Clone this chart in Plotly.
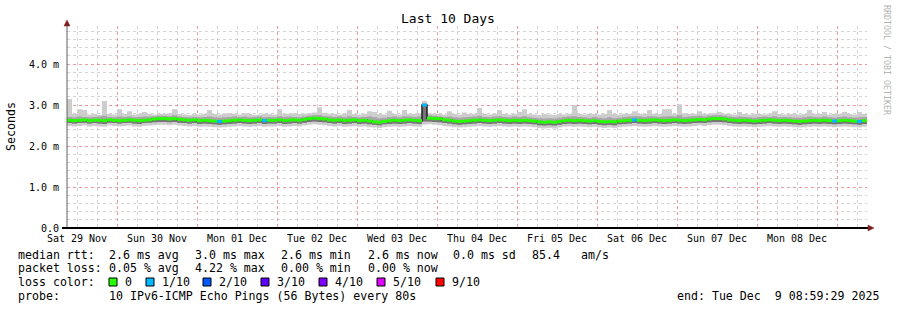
import plotly.graph_objects as go
import pandas as pd

# ---------------- data (ms) ----------------
start_time = "2025-11-29 08:59:29"
end_time = "2025-12-09 08:59:29"
step = "90min"

rtt_median = [
    2.63, 2.62, 2.63, 2.64, 2.62, 2.63, 2.63, 2.62, 2.64, 2.63, 2.62, 2.63, 2.64, 2.63, 2.62, 2.63,
    2.64, 2.66, 2.67, 2.67, 2.66, 2.67, 2.65, 2.64, 2.63, 2.64, 2.62, 2.63, 2.62, 2.61, 2.60, 2.61,
    2.62, 2.63, 2.64, 2.63, 2.62, 2.63, 2.64, 2.62, 2.63, 2.63, 2.64, 2.62, 2.63, 2.64, 2.63, 2.65,
    2.67, 2.68, 2.67, 2.66, 2.64, 2.63, 2.64, 2.62, 2.63, 2.64, 2.62, 2.63, 2.61, 2.59, 2.58, 2.60,
    2.62, 2.63, 2.62, 2.63, 2.64, 2.63, 2.62, 3.00, 2.68, 2.67, 2.67, 2.64, 2.63, 2.61, 2.60, 2.61,
    2.62, 2.63, 2.64, 2.63, 2.62, 2.63, 2.64, 2.63, 2.62, 2.63, 2.62, 2.63, 2.62, 2.61, 2.59, 2.58,
    2.59, 2.58, 2.60, 2.62, 2.63, 2.62, 2.63, 2.62, 2.61, 2.62, 2.60, 2.59, 2.60, 2.59, 2.61, 2.62,
    2.63, 2.64, 2.63, 2.62, 2.63, 2.64, 2.63, 2.62, 2.63, 2.64, 2.63, 2.62, 2.63, 2.64, 2.65, 2.64,
    2.66, 2.67, 2.67, 2.66, 2.64, 2.63, 2.62, 2.63, 2.62, 2.61, 2.62, 2.63, 2.64, 2.63, 2.62, 2.63,
    2.62, 2.61, 2.60, 2.61, 2.62, 2.63, 2.62, 2.63, 2.62, 2.61, 2.62, 2.63, 2.62, 2.61, 2.60, 2.62,
]

smoke_hi_outer = [
    3.15, 2.78, 2.90, 2.88, 2.77, 2.78, 2.76, 3.10, 2.79, 2.77, 2.90, 2.78, 2.85, 2.77, 2.78, 2.83,
    2.78, 2.77, 2.79, 2.78, 2.80, 2.90, 2.78, 2.77, 2.76, 2.78, 2.77, 2.79, 2.88, 2.78, 2.77, 2.79,
    2.80, 2.78, 2.77, 2.80, 2.78, 2.76, 2.77, 2.79, 2.78, 2.77, 2.90, 2.79, 2.78, 2.80, 2.78, 2.79,
    2.80, 2.82, 2.95, 2.81, 2.79, 2.78, 2.77, 2.79, 2.88, 2.78, 2.77, 2.79, 2.85, 2.83, 2.78, 2.77,
    2.86, 2.78, 2.77, 2.88, 2.79, 2.78, 2.80, 3.10, 2.80, 2.79, 2.78, 2.77, 2.85, 2.78, 2.77, 2.82,
    2.78, 2.79, 2.93, 2.78, 2.77, 2.79, 2.88, 2.78, 2.77, 2.79, 2.83, 2.90, 2.78, 2.77, 2.76, 2.78,
    2.77, 2.76, 2.78, 2.77, 2.79, 3.00, 2.78, 2.77, 2.79, 2.78, 2.77, 2.79, 2.88, 2.78, 2.77, 2.79,
    2.78, 2.85, 2.79, 2.78, 2.88, 2.79, 2.78, 2.90, 2.90, 2.79, 3.02, 2.80, 2.78, 2.79, 2.85, 2.78,
    2.79, 2.80, 2.83, 2.79, 2.78, 2.77, 2.83, 2.78, 2.77, 2.79, 2.78, 2.77, 2.79, 2.85, 2.78, 2.77,
    2.78, 2.79, 2.77, 2.78, 2.88, 2.79, 2.78, 2.83, 2.77, 2.78, 2.79, 2.84, 2.78, 2.77, 2.83, 2.78,
]

smoke_hi_inner = [
    2.71, 2.70, 2.72, 2.71, 2.70, 2.71, 2.72, 2.74, 2.71, 2.70, 2.72, 2.71, 2.72, 2.70, 2.71, 2.72,
    2.72, 2.73, 2.74, 2.74, 2.73, 2.75, 2.72, 2.71, 2.70, 2.71, 2.70, 2.71, 2.72, 2.70, 2.69, 2.70,
    2.71, 2.72, 2.71, 2.72, 2.70, 2.71, 2.72, 2.70, 2.71, 2.70, 2.73, 2.71, 2.72, 2.71, 2.70, 2.72,
    2.74, 2.75, 2.76, 2.73, 2.72, 2.71, 2.72, 2.70, 2.73, 2.71, 2.70, 2.71, 2.72, 2.70, 2.68, 2.69,
    2.71, 2.72, 2.70, 2.73, 2.72, 2.71, 2.72, 3.04, 2.75, 2.74, 2.73, 2.71, 2.72, 2.70, 2.69, 2.70,
    2.71, 2.72, 2.74, 2.71, 2.70, 2.72, 2.73, 2.71, 2.70, 2.72, 2.71, 2.73, 2.70, 2.69, 2.68, 2.67,
    2.68, 2.67, 2.69, 2.71, 2.72, 2.73, 2.71, 2.70, 2.69, 2.71, 2.69, 2.68, 2.70, 2.68, 2.69, 2.71,
    2.72, 2.73, 2.72, 2.71, 2.73, 2.72, 2.71, 2.72, 2.73, 2.72, 2.75, 2.71, 2.72, 2.73, 2.74, 2.72,
    2.74, 2.75, 2.75, 2.74, 2.72, 2.71, 2.72, 2.71, 2.70, 2.69, 2.71, 2.72, 2.71, 2.73, 2.70, 2.71,
    2.70, 2.69, 2.69, 2.70, 2.72, 2.71, 2.70, 2.72, 2.70, 2.69, 2.71, 2.72, 2.70, 2.69, 2.70, 2.71,
]

smoke_lo_inner = [
    2.56, 2.55, 2.56, 2.57, 2.55, 2.56, 2.55, 2.54, 2.57, 2.56, 2.55, 2.56, 2.57, 2.55, 2.54, 2.56,
    2.57, 2.58, 2.59, 2.59, 2.58, 2.59, 2.57, 2.56, 2.55, 2.56, 2.54, 2.55, 2.54, 2.53, 2.52, 2.53,
    2.54, 2.55, 2.56, 2.55, 2.54, 2.55, 2.56, 2.54, 2.55, 2.55, 2.56, 2.54, 2.55, 2.56, 2.55, 2.57,
    2.59, 2.60, 2.59, 2.58, 2.56, 2.55, 2.56, 2.54, 2.55, 2.56, 2.54, 2.55, 2.53, 2.52, 2.51, 2.53,
    2.54, 2.55, 2.54, 2.55, 2.56, 2.55, 2.54, 2.60, 2.60, 2.59, 2.58, 2.56, 2.55, 2.53, 2.52, 2.53,
    2.54, 2.55, 2.56, 2.55, 2.54, 2.55, 2.56, 2.55, 2.54, 2.55, 2.54, 2.55, 2.54, 2.53, 2.51, 2.50,
    2.51, 2.50, 2.52, 2.54, 2.55, 2.54, 2.55, 2.54, 2.53, 2.54, 2.52, 2.51, 2.52, 2.51, 2.53, 2.54,
    2.55, 2.56, 2.55, 2.54, 2.55, 2.56, 2.55, 2.54, 2.55, 2.56, 2.55, 2.54, 2.55, 2.56, 2.57, 2.56,
    2.58, 2.59, 2.59, 2.58, 2.56, 2.55, 2.54, 2.55, 2.54, 2.53, 2.54, 2.55, 2.56, 2.55, 2.54, 2.55,
    2.54, 2.53, 2.52, 2.53, 2.54, 2.55, 2.54, 2.55, 2.54, 2.53, 2.54, 2.55, 2.54, 2.53, 2.52, 2.54,
]

smoke_lo_outer = [
    2.49, 2.48, 2.49, 2.50, 2.48, 2.49, 2.48, 2.47, 2.50, 2.49, 2.48, 2.49, 2.50, 2.48, 2.47, 2.49,
    2.50, 2.51, 2.52, 2.52, 2.51, 2.52, 2.50, 2.49, 2.48, 2.49, 2.47, 2.48, 2.47, 2.46, 2.45, 2.46,
    2.47, 2.48, 2.49, 2.48, 2.47, 2.48, 2.49, 2.47, 2.48, 2.48, 2.49, 2.47, 2.48, 2.49, 2.48, 2.50,
    2.52, 2.53, 2.52, 2.51, 2.49, 2.48, 2.49, 2.47, 2.48, 2.49, 2.47, 2.48, 2.46, 2.45, 2.44, 2.46,
    2.47, 2.48, 2.47, 2.48, 2.49, 2.48, 2.47, 2.52, 2.53, 2.52, 2.51, 2.49, 2.48, 2.46, 2.45, 2.46,
    2.47, 2.48, 2.49, 2.48, 2.47, 2.48, 2.49, 2.48, 2.47, 2.48, 2.47, 2.48, 2.47, 2.46, 2.44, 2.43,
    2.44, 2.43, 2.45, 2.47, 2.48, 2.47, 2.48, 2.47, 2.46, 2.47, 2.45, 2.44, 2.45, 2.44, 2.46, 2.47,
    2.48, 2.49, 2.48, 2.47, 2.48, 2.49, 2.48, 2.47, 2.48, 2.49, 2.48, 2.47, 2.48, 2.49, 2.50, 2.49,
    2.51, 2.52, 2.52, 2.51, 2.49, 2.48, 2.47, 2.48, 2.47, 2.46, 2.47, 2.48, 2.49, 2.48, 2.47, 2.48,
    2.47, 2.46, 2.45, 2.46, 2.47, 2.48, 2.47, 2.48, 2.47, 2.46, 2.47, 2.48, 2.47, 2.46, 2.45, 2.47,
]

# loss events: bin index -> lost pings out of 10
loss_idx = [30, 39, 71, 113, 153, 158]
loss_cnt = [1, 1, 1, 1, 1, 1]

loss_labels = ["0", "1/10", "2/10", "3/10", "4/10", "5/10", "9/10"]
loss_colors = ["#26ff00", "#00b8ff", "#0059ff", "#5e00ff", "#7e00ff", "#dd00ff", "#ff0000"]
loss_level = {0: 0, 1: 1, 2: 2, 3: 3, 4: 4, 5: 5, 9: 6}

y_tickvals = [0, 1, 2, 3, 4]
y_ticktext = ["0.0", "1.0 m", "2.0 m", "3.0 m", "4.0 m"]

day_midnights = pd.date_range("2025-11-30", "2025-12-09", freq="D")
day_noons = pd.date_range("2025-11-29 12:00", "2025-12-08 12:00", freq="D")
day_labels = ["Sat 29 Nov", "Sun 30 Nov", "Mon 01 Dec", "Tue 02 Dec", "Wed 03 Dec",
              "Thu 04 Dec", "Fri 05 Dec", "Sat 06 Dec", "Sun 07 Dec", "Mon 08 Dec"]

legend_rtt = [("median rtt:", 16), ("2.6 ms avg", 107), ("3.0 ms max", 193), ("2.6 ms min", 279),
              ("2.6 ms now", 366), ("0.0 ms sd", 451), ("85.4", 530), ("am/s", 579)]
legend_loss = [("packet loss:", 16), ("0.05 % avg", 107), ("4.22 % max", 193),
               ("0.00 % min", 279), ("0.00 % now", 366)]
probe_text = "10 IPv6-ICMP Echo Pings (56 Bytes) every 80s"
end_text = "end: Tue Dec  9 08:59:29 2025"

# ---------------- geometry helpers ----------------
W, H = 897, 310
ML, MR, MT, MB = 67, 30, 26, 82
PW, PH = W - ML - MR, H - MT - MB
Y_MAX = 4.93
MONO = "DejaVu Sans Mono"


def px(x):
    return (x - ML) / PW


def py(y):
    return (H - MB - y) / PH


edges = pd.date_range(start_time, periods=len(rtt_median) + 1, freq=step)


def stepped(vals):
    return list(vals) + [vals[-1]]


fig = go.Figure()
common = dict(mode="lines", line_shape="hv", hoverinfo="skip", showlegend=False)

fig.add_trace(go.Scatter(x=edges, y=stepped(smoke_lo_outer), line=dict(width=0), **common))
fig.add_trace(go.Scatter(x=edges, y=stepped(smoke_hi_outer), line=dict(width=0),
                         fill="tonexty", fillcolor="#cdcdcd", **common))
fig.add_trace(go.Scatter(x=edges, y=stepped(smoke_lo_inner), line=dict(width=0), **common))
fig.add_trace(go.Scatter(x=edges, y=stepped(smoke_hi_inner), line=dict(width=0),
                         fill="tonexty", fillcolor="#a6a6a6", **common))
fig.add_trace(go.Scatter(x=edges, y=stepped(smoke_lo_inner), line=dict(width=0), **common))
fig.add_trace(go.Scatter(x=edges, y=stepped(rtt_median), line=dict(width=0),
                         fill="tonexty", fillcolor="#767676", **common))
# thin dark median line (visible at the vertical jumps)
fig.add_trace(go.Scatter(x=edges, y=stepped(rtt_median),
                         line=dict(width=1.5, color="#202020"), **common))


def segments(indices):
    xs, ys = [], []
    for i in indices:
        xs += [edges[i], edges[i + 1], None]
        ys += [rtt_median[i], rtt_median[i], None]
    return xs, ys


# loss-coloured horizontal segments of the median
loss_of = {i: 0 for i in range(len(rtt_median))}
for i, c in zip(loss_idx, loss_cnt):
    loss_of[i] = c
for lvl in sorted(set(loss_of.values())):
    xs, ys = segments([i for i in range(len(rtt_median)) if loss_of[i] == lvl])
    fig.add_trace(go.Scatter(x=xs, y=ys, mode="lines", hoverinfo="skip", showlegend=False,
                             line=dict(width=3, color=loss_colors[loss_level[lvl]])))

# invisible trace for the label axis
fig.add_trace(go.Scatter(x=[edges[0], edges[-1]], y=[0, 0], xaxis="x2", mode="markers",
                         marker=dict(opacity=0), hoverinfo="skip", showlegend=False))

grid_minor = "rgba(160,160,160,0.45)"
grid_major = "rgba(255,100,100,0.5)"

fig.update_layout(
    width=W, height=H,
    margin=dict(l=ML, r=MR, t=MT, b=MB),
    paper_bgcolor="white", plot_bgcolor="white",
    xaxis=dict(
        type="date", range=[edges[0], edges[-1]],
        tickmode="array", tickvals=day_midnights, showticklabels=False,
        showgrid=True, gridcolor=grid_major, griddash="dot", gridwidth=1,
        minor=dict(tickmode="linear", tick0="2025-11-30 00:00", dtick=21600000,
                   showgrid=True, gridcolor=grid_minor, griddash="dot", gridwidth=1),
        showline=False, zeroline=False, ticks="",
    ),
    xaxis2=dict(
        type="date", range=[edges[0], edges[-1]], overlaying="x", anchor="y", side="bottom",
        tickmode="array", tickvals=day_noons, ticktext=day_labels,
        tickfont=dict(family=MONO, size=10, color="black"),
        showgrid=False, showline=False, zeroline=False, ticks="", ticklabelstandoff=3,
    ),
    yaxis=dict(
        range=[0, Y_MAX], tickmode="array", tickvals=y_tickvals, ticktext=y_ticktext,
        tickfont=dict(family=MONO, size=10, color="black"),
        showgrid=True, gridcolor=grid_major, griddash="dot", gridwidth=1,
        minor=dict(tickmode="linear", tick0=0, dtick=0.2, showgrid=True,
                   gridcolor=grid_minor, griddash="dot", gridwidth=1),
        showline=False, zeroline=False, ticks="", ticklabelstandoff=7,
    ),
)

shapes = []
# axis lines
shapes.append(dict(type="line", xref="paper", yref="paper", x0=px(67), x1=px(67),
                   y0=py(228), y1=py(24), line=dict(color="#606060", width=1)))
shapes.append(dict(type="line", xref="paper", yref="paper", x0=px(62), x1=px(869),
                   y0=py(228), y1=py(228), line=dict(color="black", width=2)))
# arrow heads
shapes.append(dict(type="path", xref="paper", yref="paper",
                   path=f"M {px(64)},{py(26)} L {px(70)},{py(26)} L {px(67)},{py(20)} Z",
                   fillcolor="#7f2020", line=dict(color="#7f2020", width=0.5)))
shapes.append(dict(type="path", xref="paper", yref="paper",
                   path=f"M {px(868)},{py(225)} L {px(868)},{py(231)} L {px(874)},{py(228)} Z",
                   fillcolor="#7f2020", line=dict(color="#7f2020", width=0.5)))

ann = []


def txt(s, x, y, size=11.6, anchor="left", color="black", angle=0, family=MONO):
    ann.append(dict(text=s.replace(" ", "\u00a0"), x=px(x), y=py(y), xref="paper", yref="paper",
                    xanchor=anchor, yanchor="middle", showarrow=False, textangle=angle,
                    font=dict(family=family, size=size, color=color)))


txt("Last 10 Days", 448, 19, size=13, anchor="center")
txt("Seconds", 11, 126, size=11.6, anchor="center", angle=-90)
txt("RRDTOOL / TOBI OETIKER", 887, 60, size=8.3, anchor="center", angle=90, color="#b4b4b4")

for s, x in legend_rtt:
    txt(s, x, 255)
for s, x in legend_loss:
    txt(s, x, 268)
txt("loss color:", 16, 282)

box_x = [109, 146, 203, 261, 319, 377, 436]
for lab, col, bx in zip(loss_labels, loss_colors, box_x):
    shapes.append(dict(type="rect", xref="paper", yref="paper",
                       x0=px(bx), x1=px(bx + 8), y0=py(278), y1=py(286),
                       fillcolor=col, line=dict(color="black", width=1)))
    txt(lab, bx + 14, 282)

txt("probe:", 16, 296)
txt(probe_text, 107, 296)
txt(end_text, 881, 296, anchor="right")

fig.update_layout(shapes=shapes, annotations=ann)
fig.write_html("out.html")
